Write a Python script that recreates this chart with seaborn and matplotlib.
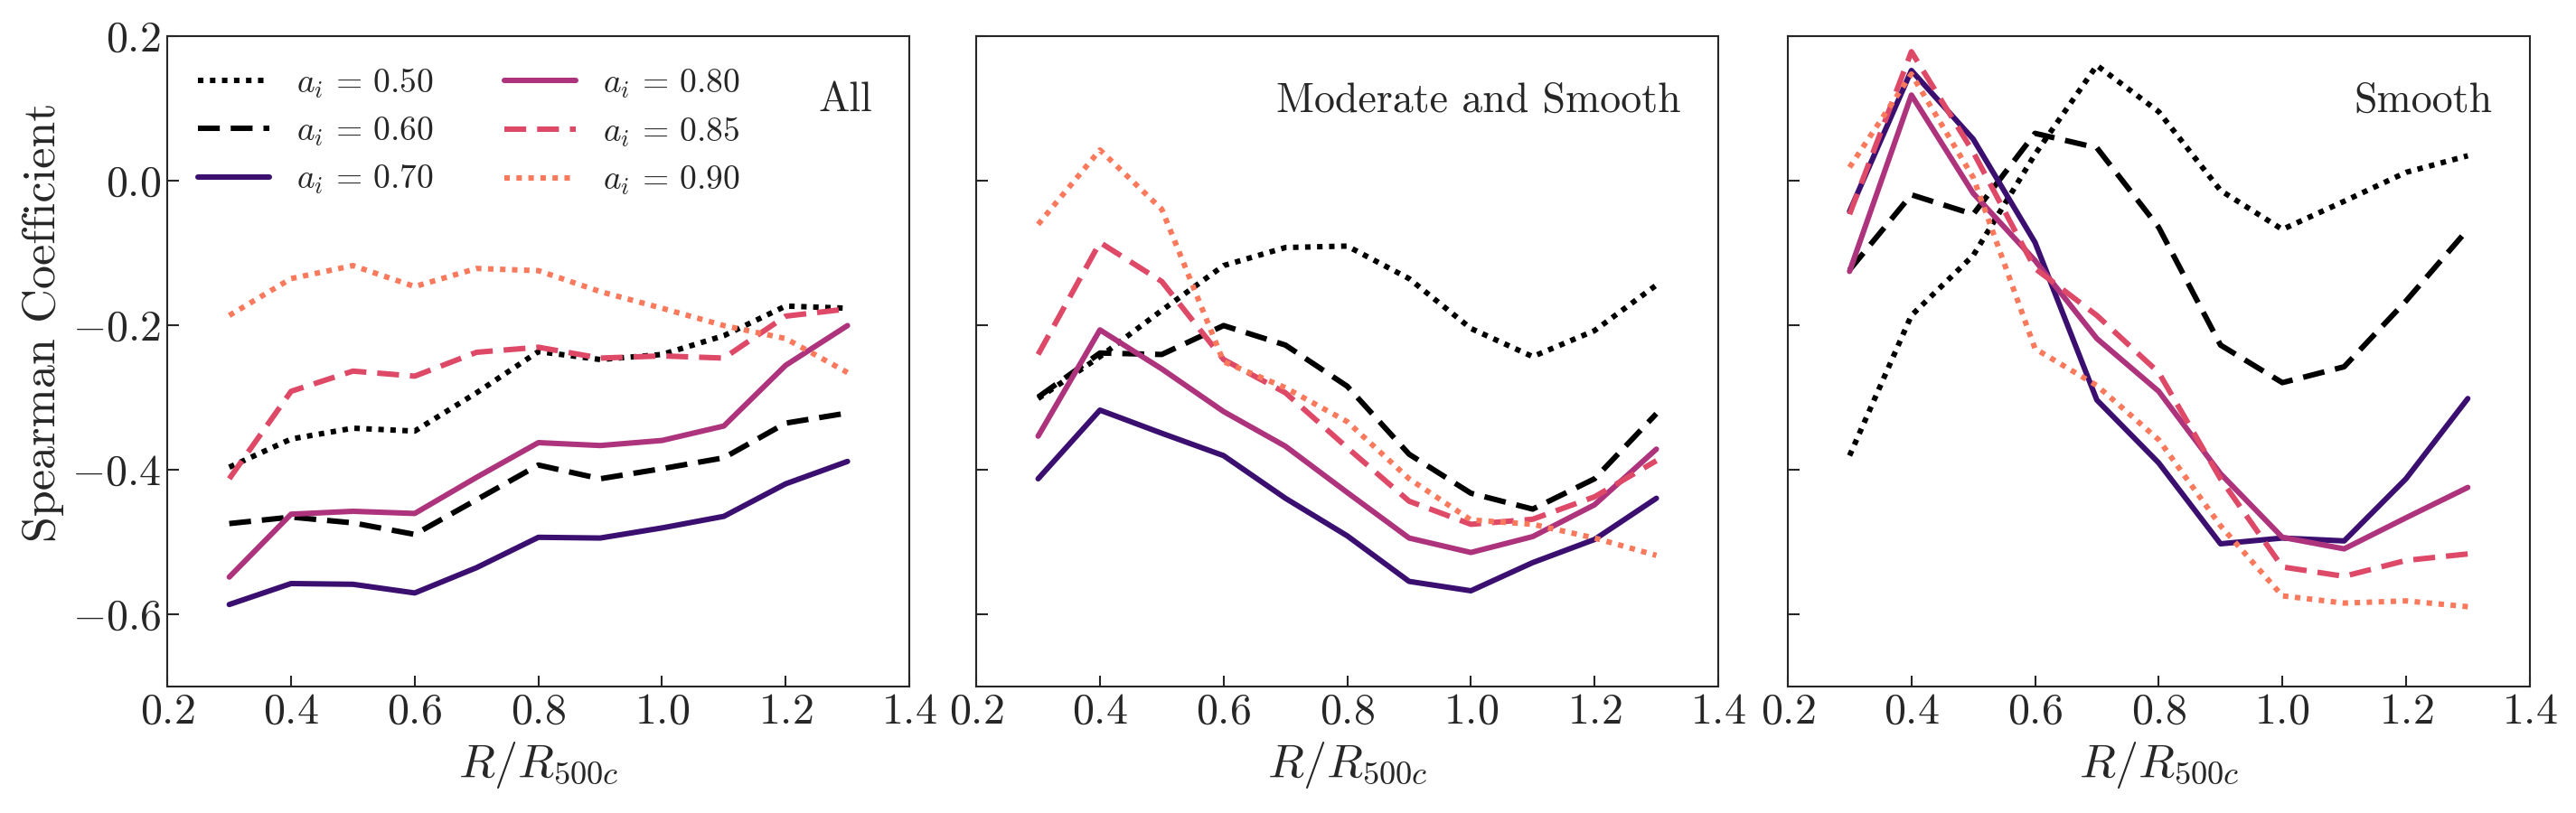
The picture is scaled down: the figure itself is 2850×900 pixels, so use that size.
import numpy as np
import pandas as pd
import matplotlib
matplotlib.use("Agg")
import matplotlib.pyplot as plt
import seaborn as sns

# radios
radios = [0.3, 0.4, 0.5, 0.6, 0.7, 0.8, 0.9, 1.0, 1.1, 1.2, 1.3]
a_vals = ["0.50", "0.60", "0.70", "0.80", "0.85", "0.90"]
paneles = ["All", "Moderate and Smooth", "Smooth"]

# coeficientes de Spearman (panel "All")
all_050 = [-0.397, -0.358, -0.343, -0.347, -0.294, -0.237, -0.248, -0.241, -0.215, -0.174, -0.177]
all_060 = [-0.475, -0.466, -0.474, -0.490, -0.442, -0.394, -0.413, -0.399, -0.384, -0.336, -0.322]
all_070 = [-0.587, -0.558, -0.559, -0.571, -0.536, -0.494, -0.495, -0.481, -0.465, -0.420, -0.389]
all_080 = [-0.549, -0.462, -0.458, -0.461, -0.411, -0.363, -0.367, -0.360, -0.340, -0.256, -0.201]
all_085 = [-0.413, -0.292, -0.264, -0.271, -0.238, -0.231, -0.246, -0.243, -0.246, -0.188, -0.178]
all_090 = [-0.187, -0.136, -0.118, -0.147, -0.122, -0.125, -0.154, -0.177, -0.201, -0.219, -0.266]

# panel "Moderate and Smooth"
mod_050 = [-0.302, -0.244, -0.180, -0.118, -0.093, -0.091, -0.136, -0.205, -0.244, -0.208, -0.145]
mod_060 = [-0.300, -0.239, -0.241, -0.201, -0.228, -0.285, -0.379, -0.433, -0.455, -0.413, -0.323]
mod_070 = [-0.413, -0.318, -0.350, -0.381, -0.440, -0.492, -0.555, -0.568, -0.529, -0.497, -0.440]
mod_080 = [-0.354, -0.207, -0.261, -0.320, -0.368, -0.432, -0.495, -0.515, -0.493, -0.449, -0.372]
mod_085 = [-0.241, -0.086, -0.140, -0.248, -0.294, -0.370, -0.444, -0.476, -0.469, -0.438, -0.388]
mod_090 = [-0.061, 0.042, -0.040, -0.251, -0.287, -0.334, -0.413, -0.470, -0.476, -0.495, -0.519]

# panel "Smooth"
smo_050 = [-0.381, -0.187, -0.104, 0.036, 0.159, 0.095, -0.014, -0.068, -0.029, 0.011, 0.034]
smo_060 = [-0.124, -0.020, -0.047, 0.065, 0.045, -0.065, -0.228, -0.280, -0.258, -0.167, -0.068]
smo_070 = [-0.043, 0.152, 0.057, -0.086, -0.304, -0.391, -0.503, -0.495, -0.499, -0.413, -0.302]
smo_080 = [-0.126, 0.118, -0.018, -0.111, -0.219, -0.292, -0.406, -0.494, -0.510, -0.467, -0.425]
smo_085 = [-0.047, 0.178, 0.039, -0.122, -0.187, -0.266, -0.413, -0.535, -0.548, -0.526, -0.517]
smo_090 = [0.018, 0.147, 0.004, -0.233, -0.284, -0.359, -0.478, -0.575, -0.585, -0.582, -0.590]

datos = {
    "All": [all_050, all_060, all_070, all_080, all_085, all_090],
    "Moderate and Smooth": [mod_050, mod_060, mod_070, mod_080, mod_085, mod_090],
    "Smooth": [smo_050, smo_060, smo_070, smo_080, smo_085, smo_090],
}

magma = plt.get_cmap("magma")
colores = ["black", "black", magma(0.2), magma(0.48), magma(0.6), magma(0.72)]
estilos = [(0, (1, 1.2)), (0, (4, 2)), "-", "-", (0, (4, 2)), (0, (1, 1.2))]

sns.set_style("ticks")
plt.rcParams["font.family"] = "serif"
plt.rcParams["font.serif"] = ["cmr10"]
plt.rcParams["mathtext.fontset"] = "cm"
plt.rcParams["axes.formatter.use_mathtext"] = True
plt.rcParams["axes.unicode_minus"] = True

fig = plt.figure(figsize=(19, 6), dpi=150)
lefts = [0.065, 0.379, 0.694]
axes = [fig.add_axes([l, 0.156, 0.288, 0.80]) for l in lefts]

for ax, panel in zip(axes, paneles):
    for serie, a, c, ls in zip(datos[panel], a_vals, colores, estilos):
        df = pd.DataFrame({"R": radios, "rho": serie})
        sns.lineplot(data=df, x="R", y="rho", ax=ax, color=c, linestyle=ls,
                     linewidth=2.9, label=rf"$a_i \,=\, {a}$")
    ax.set_xlim(0.2, 1.4)
    ax.set_ylim(-0.7, 0.2)
    ax.set_xticks(np.arange(0.2, 1.41, 0.2))
    ax.set_yticks([-0.6, -0.4, -0.2, 0.0, 0.2])
    ax.tick_params(direction="in", labelsize=23, length=6, width=1)
    ax.set_xlabel("$R/R_{500c}$", fontsize=25)
    ax.text(0.95, 0.9, panel, transform=ax.transAxes, ha="right", va="center", fontsize=22)
    for s in ax.spines.values():
        s.set_linewidth(1)
    if panel == "All":
        ax.set_ylabel("Spearman Coefficient", fontsize=25, y=0.56)
        ax.legend(ncol=2, frameon=False, fontsize=18, loc="upper left",
                  handlelength=2.1, columnspacing=2.1, borderaxespad=0.5, labelspacing=0.45)
    else:
        ax.set_ylabel("")
        ax.set_yticklabels([])
        ax.get_legend().remove()

fig.savefig("out.png", dpi=150)
